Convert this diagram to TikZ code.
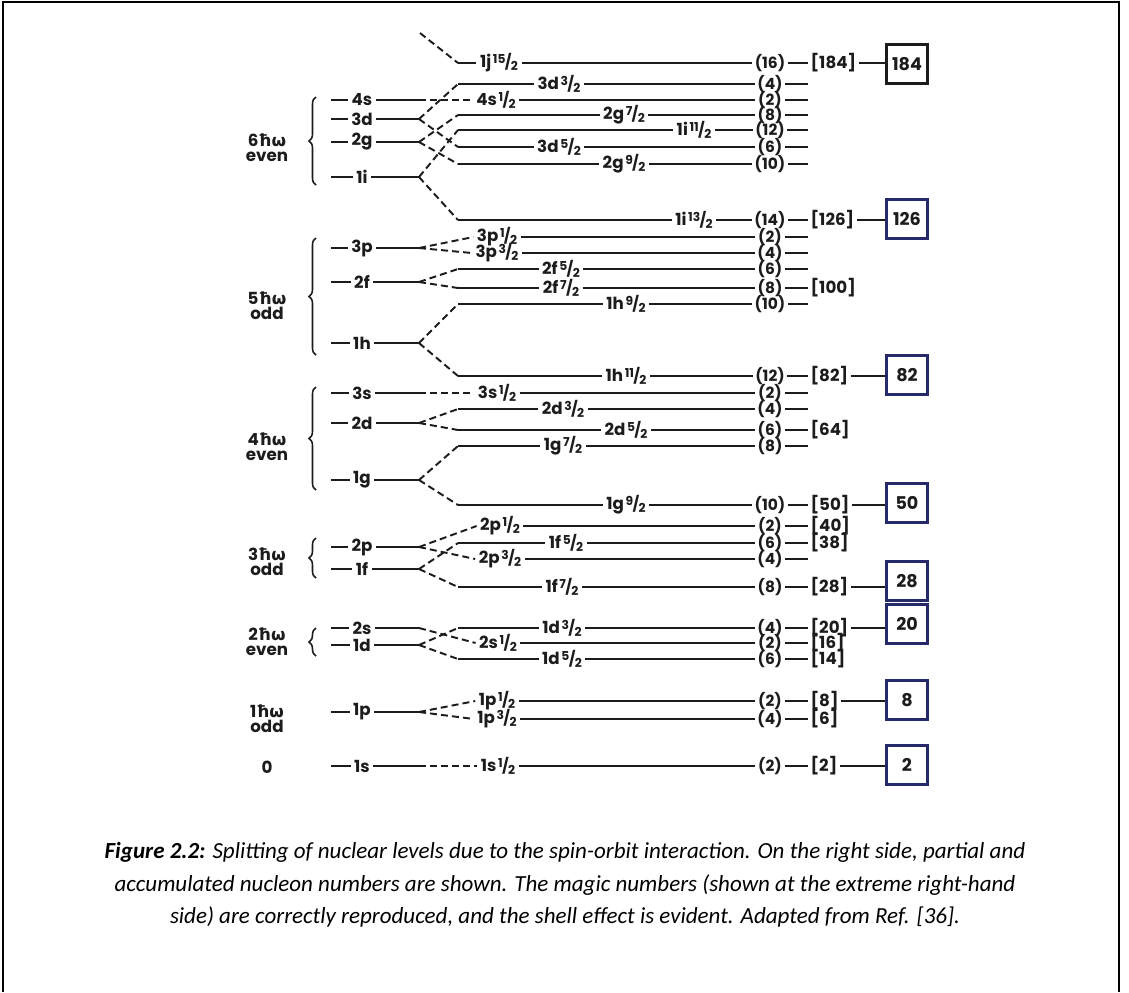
\documentclass[tikz,border=0pt]{standalone}
\usepackage{fontspec}
\setmainfont{Poppins}
\newfontfamily\grk{DejaVu Sans}
\newfontfamily\capfont{Carlito}
\usetikzlibrary{decorations.pathreplacing}
\definecolor{ink}{HTML}{1C1C1C}
\definecolor{boxblue}{HTML}{262A6B}
\newcommand{\jhalf}[1]{\kern.1em\raisebox{.45ex}{\fontsize{7}{7}\selectfont#1}\kern-.04em{\fontsize{8.5}{8.5}\selectfont/}\kern-.04em\raisebox{-.3ex}{\fontsize{7}{7}\selectfont2}}
\newcommand{\hw}{{\grk ħω}}

\begin{document}
\begin{tikzpicture}[x=0.02cm,y=-0.02cm,line width=1.1pt,draw=ink,
    levlab/.style={font=\fontsize{9.5}{9.5}\selectfont\bfseries,inner sep=1.5pt,text=ink},
    sublab/.style={font=\fontsize{9.5}{9.5}\selectfont\bfseries,inner sep=1.5pt,text=ink},
    partnum/.style={font=\fontsize{8.8}{8.8}\selectfont\bfseries,inner sep=1pt,text=ink},
    accnum/.style={font=\fontsize{9.5}{9.5}\selectfont\bfseries,inner sep=1pt,text=ink,anchor=west},
    magicbox/.style={font=\fontsize{10}{10}\selectfont\bfseries,line width=1.4pt,minimum width=0.82cm,minimum height=0.78cm,inner sep=0pt,text=ink},
    grplab/.style={font=\fontsize{9.5}{8.5}\selectfont\bfseries,align=center,inner sep=0pt,text=ink},
    grpbrace/.style={decorate,decoration={brace,amplitude=4pt},line width=0.9pt},
    forkline/.style={dash pattern=on 4pt off 2.3pt},
    captext/.style={font=\capfont\itshape\fontsize{13.1}{18.4}\selectfont,align=center,inner sep=0pt}]
  \useasboundingbox (0,0) rectangle (1129,992);
  \draw[line width=0.8pt,black] (3,992) -- (3,2) -- (1119,2) -- (1119,992);

  \foreach \nm/\y/\x/\orb/\j/\n in {
      j15/63/499/1j/15/16, d3c/84/559/3d/3/4, s4/100/496/4s/1/2, g7b/115/624/2g/7/8,
      i11/130/694/1i/11/12, d5c/147/559/3d/5/6, g9b/164/624/2g/9/10, i13/220/694/1i/13/14,
      p1c/237/497/3p/1/2, p3c/253/497/3p/3/4, f5b/269/561/2f/5/6, f7b/288/561/2f/7/8,
      h9/304/626/1h/9/10, h11/376/626/1h/11/12,
      s3/393/497/3s/1/2, d3b/409/563/2d/3/4, d5b/430/626/2d/5/6, g7a/446/563/1g/7/8,
      g9a/505/626/1g/9/10,
      p1b/526/500/2p/1/2, f5a/543/566/1f/5/6, p3b/559/500/2p/3/4, f7a/587/562/1f/7/8,
      d3a/628/562/1d/3/4, s2/643/498/2s/1/2, d5a/659/562/1d/5/6,
      p1a/701/497/1p/1/2, p3a/719/497/1p/3/4, s1/766/498/1s/1/2}
  {
    \node[sublab] (\nm) at (\x,\y) {\orb\jhalf{\j}};
    \node[partnum] (n\nm) at (770,\y) {(\n)};
    \coordinate (k\nm) at (458,\y);
    \coordinate (e\nm) at (808,\y);
    \draw (\nm.east) -- (n\nm.west);
  }

  \foreach \nm/\a in {j15/184, i13/126, f7b/100, h11/82, d5b/64, g9a/50, p1b/40, f5a/38,
      f7a/28, d3a/20, s2/16, d5a/14, p1a/8, p3a/6, s1/2}
  {
    \node[accnum] (a\nm) at (e\nm) {[\a]};
    \draw (n\nm.east) -- (a\nm.west);
  }
  \foreach \nm in {d3c,s4,g7b,i11,d5c,g9b,p1c,p3c,f5b,h9,s3,d3b,g7a,p3b}
    \draw (n\nm.east) -- (e\nm);

  \foreach \nm/\m/\yb/\col in {j15/184/64/ink, i13/126/219/boxblue, h11/82/375/boxblue,
      g9a/50/503/boxblue, f7a/28/581/boxblue, d3a/20/624/boxblue, p1a/8/700/boxblue,
      s1/2/765/boxblue}
  {
    \node[magicbox,draw=\col] (m\m) at (907,\yb) {\m};
    \draw (a\nm.east) -- (a\nm.east -| m\m.west);
  }

  \foreach \nm/\y in {4s/100, 3d/119, 2g/142, 1i/177, 3p/248, 2f/282, 1h/343, 3s/393,
      2d/423, 1g/480, 2p/547, 1f/569, 2s/628, 1d/645, 1p/712, 1s/766}
  {
    \node[levlab] (l\nm) at (362,\y) {\nm};
    \coordinate (t\nm) at (331,\y);
    \coordinate (fk\nm) at (419,\y);
    \draw (t\nm) -- (l\nm.west);
    \draw (l\nm.east) -- (fk\nm);
  }

  \foreach \a/\b in {3d/d3c, 3d/d5c, 2g/g7b, 2g/g9b, 1i/i11, 1i/i13, 2f/f5b, 2f/f7b,
      1h/h9, 1h/h11, 2d/d3b, 2d/d5b, 1g/g7a, 1g/g9a, 1f/f5a, 1f/f7a, 1d/d3a, 1d/d5a}
  {
    \draw[forkline] (fk\a) -- (k\b);
    \draw (k\b) -- (\b.west);
  }
  \foreach \a/\b in {4s/s4, 3p/p1c, 3p/p3c, 3s/s3, 2p/p1b, 2p/p3b, 2s/s2, 1p/p1a, 1p/p3a, 1s/s1}
    \draw[forkline] (fk\a) -- (\b.west);

  \coordinate (up) at (420,33);
  \draw[forkline] (up) -- (kj15);
  \draw (kj15) -- (j15.west);

  \foreach \t/\b in {97/185, 238/355, 387/490, 538/578, 628/656}
    \draw[grpbrace] (316,\b) -- (316,\t);

  \foreach \nm/\y/\txt in {g6/148/{6\hw\\even}, g5/306/{5\hw\\odd}, g4/447/{4\hw\\even},
      g3/562/{3\hw\\odd}, g2/642/{2\hw\\even}, g1/719/{1\hw\\odd}, g0/767/{0}}
    \node[grplab] (\nm) at (267,\y) {\txt};

  \node[captext] (cap) at (565,885) {{\bfseries Figure 2.2:} Splitting of nuclear levels due to the spin-orbit interaction. On the right side, partial and\\
    accumulated nucleon numbers are shown. The magic numbers (shown at the extreme right-hand\\
    side) are correctly reproduced, and the shell effect is evident. Adapted from Ref. [36].};
\end{tikzpicture}
\end{document}
